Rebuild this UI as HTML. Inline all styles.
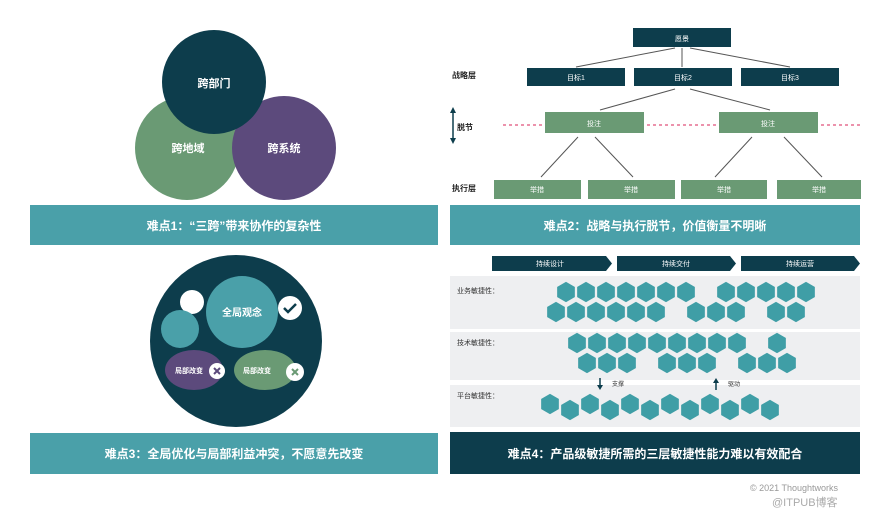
<!DOCTYPE html>
<html><head><meta charset="utf-8"><style>
html,body{margin:0;padding:0;background:#fff;width:889px;height:518px;overflow:hidden}
svg{display:block}
text{font-family:"Liberation Sans","Noto Sans CJK SC",sans-serif}
</style></head><body>
<svg width="889" height="518" viewBox="0 0 889 518" xmlns="http://www.w3.org/2000/svg">
<defs>
<polygon id="hx" points="0,-11 9.5,-5.5 9.5,5.5 0,11 -9.5,5.5 -9.5,-5.5" fill="#3f9ea6" stroke="#eeeff1" stroke-width="1.3"/>
</defs>
<!-- Panel 1 -->
<circle cx="187" cy="148" r="52" fill="#6a9a74"/>
<circle cx="284" cy="148" r="52" fill="#5c4a7c"/>
<circle cx="214" cy="82" r="52" fill="#0d3d4c"/>
<g fill="#fff" font-size="11" font-weight="bold" text-anchor="middle">
<text x="214" y="87">跨部门</text><text x="188" y="152">跨地域</text><text x="284" y="152">跨系统</text>
</g>
<rect x="30" y="205" width="408" height="40" fill="#4aa0a9"/>
<text x="234" y="230" fill="#fff" font-size="12" font-weight="bold" text-anchor="middle">难点1：“三跨”带来协作的复杂性</text>

<!-- Panel 2 -->
<g stroke="#555" stroke-width="1">
<line x1="675" y1="48" x2="576" y2="67"/><line x1="682" y1="48" x2="682" y2="67"/><line x1="690" y1="48" x2="790" y2="67"/>
<line x1="675" y1="89" x2="600" y2="110"/><line x1="690" y1="89" x2="770" y2="110"/>
<line x1="578" y1="137" x2="541" y2="177"/><line x1="595" y1="137" x2="633" y2="177"/>
<line x1="752" y1="137" x2="715" y2="177"/><line x1="784" y1="137" x2="822" y2="177"/>
</g>
<line x1="503" y1="125" x2="862" y2="125" stroke="#e0507a" stroke-width="1.2" stroke-dasharray="3,3"/>
<rect x="633" y="28" width="98" height="19" fill="#0d3d4c"/>
<rect x="527" y="68" width="98" height="18" fill="#0d3d4c"/>
<rect x="634" y="68" width="98" height="18" fill="#0d3d4c"/>
<rect x="741" y="68" width="98" height="18" fill="#0d3d4c"/>
<rect x="545" y="112" width="99" height="21" fill="#6a9a74"/>
<rect x="719" y="112" width="99" height="21" fill="#6a9a74"/>
<rect x="494" y="180" width="87" height="19" fill="#6a9a74"/>
<rect x="588" y="180" width="87" height="19" fill="#6a9a74"/>
<rect x="681" y="180" width="86" height="19" fill="#6a9a74"/>
<rect x="777" y="180" width="84" height="19" fill="#6a9a74"/>
<g fill="#fff" font-size="7" text-anchor="middle">
<text x="682" y="41">愿景</text><text x="576" y="80">目标1</text><text x="683" y="80">目标2</text><text x="790" y="80">目标3</text>
<text x="594" y="126">投注</text><text x="768" y="126">投注</text>
<text x="537" y="192">举措</text><text x="631" y="192">举措</text><text x="724" y="192">举措</text><text x="819" y="192">举措</text>
</g>
<g fill="#222" font-size="8" font-weight="bold">
<text x="452" y="78">战略层</text><text x="457" y="130">脱节</text><text x="452" y="191">执行层</text>
</g>
<line x1="453" y1="112" x2="453" y2="139" stroke="#0d3d4c" stroke-width="1.5"/>
<polygon points="453,107 450,113 456,113" fill="#0d3d4c"/><polygon points="453,144 450,138 456,138" fill="#0d3d4c"/>
<rect x="450" y="205" width="410" height="40" fill="#4aa0a9"/>
<text x="655" y="230" fill="#fff" font-size="12" font-weight="bold" text-anchor="middle">难点2：战略与执行脱节，价值衡量不明晰</text>

<!-- Panel 3 -->
<circle cx="236" cy="341" r="86" fill="#0d3d4c"/>
<circle cx="192" cy="302" r="12" fill="#fff"/>
<circle cx="180" cy="329" r="19" fill="#4aa0a9"/>
<circle cx="242" cy="312" r="36" fill="#4aa0a9"/>
<text x="242" y="316" fill="#fff" font-size="10" font-weight="bold" text-anchor="middle">全局观念</text>
<circle cx="290" cy="308" r="12" fill="#fff"/>
<polyline points="284,308 288,312 296,304" fill="none" stroke="#0d3d4c" stroke-width="2.5"/>
<ellipse cx="194" cy="370" rx="29" ry="20" fill="#5c4a7c"/>
<ellipse cx="265" cy="370" rx="31" ry="20" fill="#6a9a74"/>
<g fill="#fff" font-size="7" font-weight="bold" text-anchor="middle">
<text x="189" y="373">局部改变</text><text x="257" y="373">局部改变</text></g>
<circle cx="217" cy="371" r="8" fill="#fff"/><circle cx="295" cy="372" r="9" fill="#fff"/>
<g stroke-width="2"><path d="M214,368 L220,374 M220,368 L214,374" stroke="#5c4a7c"/>
<path d="M292,369 L298,375 M298,369 L292,375" stroke="#6a9a74"/></g>
<rect x="30" y="433" width="408" height="41" fill="#4aa0a9"/>
<text x="234" y="458" fill="#fff" font-size="12" font-weight="bold" text-anchor="middle">难点3：全局优化与局部利益冲突，不愿意先改变</text>

<!-- Panel 4 -->
<g fill="#0d3d4c">
<polygon points="492,256 606,256 612,263.5 606,271 492,271"/>
<polygon points="617,256 730,256 736,263.5 730,271 617,271"/>
<polygon points="741,256 854,256 860,263.5 854,271 741,271"/>
</g>
<g fill="#fff" font-size="7" text-anchor="middle">
<text x="550" y="266">持续设计</text><text x="676" y="266">持续交付</text><text x="800" y="266">持续运营</text></g>
<rect x="450" y="276" width="410" height="53" fill="#eeeff1"/>
<rect x="450" y="332" width="410" height="48" fill="#eeeff1"/>
<rect x="450" y="385" width="410" height="42" fill="#eeeff1"/>
<g fill="#333" font-size="7"><text x="457" y="293">业务敏捷性：</text><text x="457" y="345">技术敏捷性：</text><text x="457" y="398">平台敏捷性：</text></g>
<g>
<use href="#hx" x="566" y="292"/><use href="#hx" x="586" y="292"/><use href="#hx" x="606" y="292"/><use href="#hx" x="626" y="292"/><use href="#hx" x="646" y="292"/><use href="#hx" x="666" y="292"/><use href="#hx" x="686" y="292"/>
<use href="#hx" x="726" y="292"/><use href="#hx" x="746" y="292"/><use href="#hx" x="766" y="292"/><use href="#hx" x="786" y="292"/><use href="#hx" x="806" y="292"/>
<use href="#hx" x="556" y="312"/><use href="#hx" x="576" y="312"/><use href="#hx" x="596" y="312"/><use href="#hx" x="616" y="312"/><use href="#hx" x="636" y="312"/><use href="#hx" x="656" y="312"/>
<use href="#hx" x="696" y="312"/><use href="#hx" x="716" y="312"/><use href="#hx" x="736" y="312"/><use href="#hx" x="776" y="312"/><use href="#hx" x="796" y="312"/>
<use href="#hx" x="577" y="343"/><use href="#hx" x="597" y="343"/><use href="#hx" x="617" y="343"/><use href="#hx" x="637" y="343"/><use href="#hx" x="657" y="343"/><use href="#hx" x="677" y="343"/><use href="#hx" x="697" y="343"/><use href="#hx" x="717" y="343"/><use href="#hx" x="737" y="343"/><use href="#hx" x="777" y="343"/>
<use href="#hx" x="587" y="363"/><use href="#hx" x="607" y="363"/><use href="#hx" x="627" y="363"/><use href="#hx" x="667" y="363"/><use href="#hx" x="687" y="363"/><use href="#hx" x="707" y="363"/><use href="#hx" x="747" y="363"/><use href="#hx" x="767" y="363"/><use href="#hx" x="787" y="363"/>
<use href="#hx" x="550" y="404"/><use href="#hx" x="570" y="410"/><use href="#hx" x="590" y="404"/><use href="#hx" x="610" y="410"/><use href="#hx" x="630" y="404"/><use href="#hx" x="650" y="410"/><use href="#hx" x="670" y="404"/><use href="#hx" x="690" y="410"/><use href="#hx" x="710" y="404"/><use href="#hx" x="730" y="410"/><use href="#hx" x="750" y="404"/><use href="#hx" x="770" y="410"/>
</g>
<line x1="600" y1="378" x2="600" y2="386" stroke="#0d3d4c" stroke-width="1.5"/><polygon points="597,385 603,385 600,390" fill="#0d3d4c"/>
<line x1="716" y1="382" x2="716" y2="390" stroke="#0d3d4c" stroke-width="1.5"/><polygon points="713,383 719,383 716,378" fill="#0d3d4c"/>
<g fill="#333" font-size="6"><text x="612" y="386">支撑</text><text x="728" y="386">驱动</text></g>
<rect x="450" y="432" width="410" height="42" fill="#0d3d4c"/>
<text x="655" y="458" fill="#fff" font-size="12" font-weight="bold" text-anchor="middle">难点4：产品级敏捷所需的三层敏捷性能力难以有效配合</text>

<text x="750" y="491" fill="#999" font-size="9">© 2021 Thoughtworks</text>
<text x="772" y="506" fill="#aaa" font-size="11">@ITPUB博客</text>
</svg>
</body></html>
